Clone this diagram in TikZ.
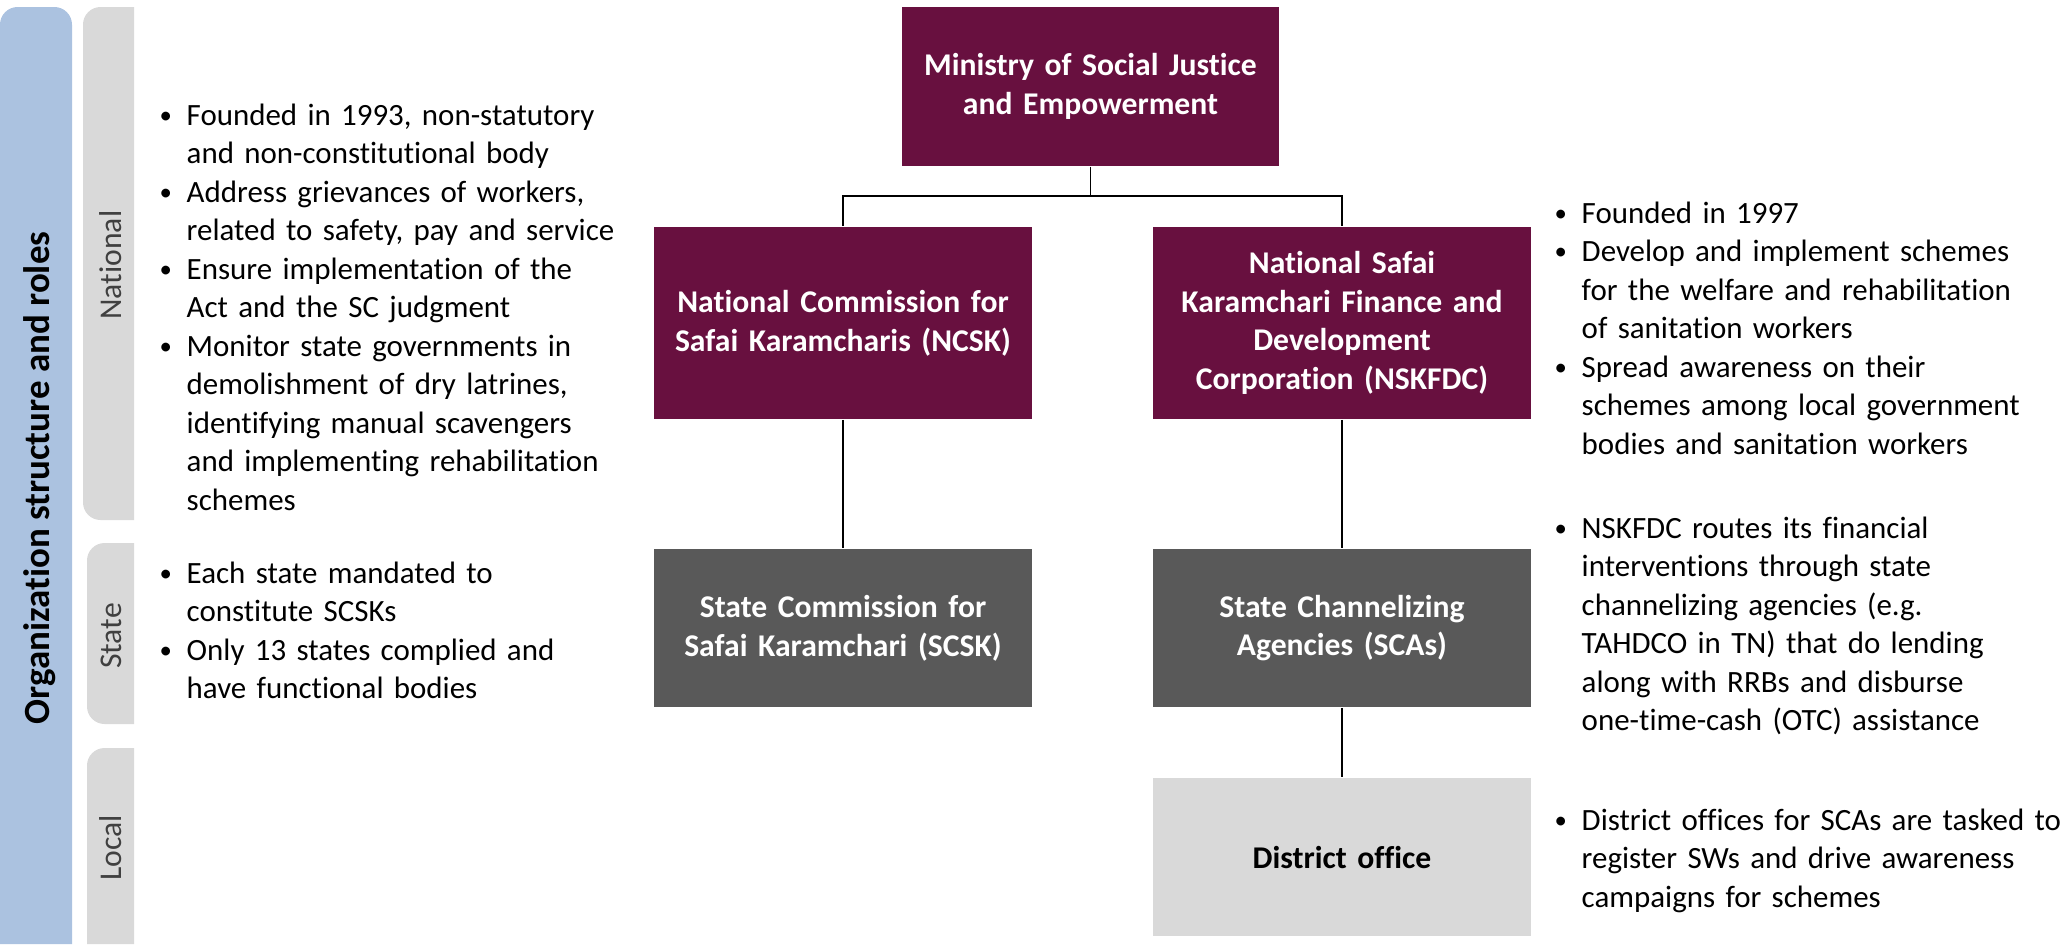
\documentclass[tikz,border=0pt]{standalone}
\usepackage{fontspec}
\setmainfont{Carlito}[Ligatures=NoCommon]
\usepackage{graphicx}
\usepackage{tikz}

\definecolor{maroon}{HTML}{68103F}
\definecolor{darkbox}{HTML}{595959}
\definecolor{lightbox}{HTML}{D9D9D9}
\definecolor{tabgray}{HTML}{D9D9D9}
\definecolor{barblue}{HTML}{ABC2E0}
\definecolor{labelgray}{HTML}{404040}

\newcommand{\bul}{\par\hangindent=0.31cm\hangafter=1\noindent\makebox[0.31cm][l]{\hspace{0.04cm}\raisebox{0.06em}{\scalebox{0.8}{\textbullet}}}}

\begin{document}
\begin{tikzpicture}[x=0.01cm,y=-0.01cm,
    natbox/.style={fill=maroon,text=white,font=\fontsize{9}{11}\selectfont\bfseries,minimum width=3.77cm,text width=3.5cm,align=center,inner sep=0pt},
    statebox/.style={natbox,fill=darkbox,minimum height=1.58cm},
    localbox/.style={natbox,fill=lightbox,text=black,minimum height=1.58cm},
    bullets/.style={anchor=north west,text width=5.3cm,align=left,inner sep=0pt,font=\fontsize{8.8}{10.95}\selectfont},
    tablabel/.style={rotate=90,text=labelgray,font=\fontsize{9}{11}\selectfont},
    link/.style={line width=0.5pt}]
    \useasboundingbox (0,0) rectangle (2065,944);
    % left bar and level tabs
    \fill[barblue] (0,944) [rounded corners=5pt] -- (0,7) -- (72,7) [sharp corners] -- (72,944) -- cycle;
    \fill[tabgray] (134,7) [rounded corners=5pt] -- (83,7) -- (83,520) [sharp corners] -- (134,520) -- cycle;
    \fill[tabgray] (134,543) [rounded corners=5pt] -- (87,543) -- (87,724) [sharp corners] -- (134,724) -- cycle;
    \fill[tabgray] (134,748) [rounded corners=5pt] -- (87,748) [sharp corners] -- (87,944) -- (134,944) -- cycle;
    \node[rotate=90,font=\fontsize{10.5}{12}\selectfont\bfseries] (title) at (40,478) {Organization structure and roles};
    \node[tablabel] (natlabel) at (111,265) {National};
    \node[tablabel] (statelabel) at (111,636) {State};
    \node[tablabel] (locallabel) at (111,848) {Local};

    % boxes
    \node[natbox,minimum height=1.59cm] (ministry) at (1090.5,86.5) {Ministry of Social Justice\\and Empowerment};
    \node[natbox,minimum height=1.92cm] (ncsk) at (843,323) {National Commission for\\Safai Karamcharis (NCSK)};
    \node[natbox,minimum height=1.92cm] (nskfdc) at (1342,323) {National Safai\\Karamchari Finance and\\Development\\Corporation (NSKFDC)};
    \node[statebox] (scsk) at (843,628) {State Commission for\\Safai Karamchari (SCSK)};
    \node[statebox] (sca) at (1342,628) {State Channelizing\\Agencies (SCAs)};
    \node[localbox] (district) at (1342,857) {District office};

    \draw[link] (ministry.south) -- ++(0,29) -| (ncsk.north);
    \draw[link] (ministry.south) -- ++(0,29) -| (nskfdc.north);
    \draw[link] (ncsk) -- (scsk);
    \draw[link] (nskfdc) -- (sca);
    \draw[link] (sca) -- (district);

    % roles
    \node[bullets] (nattext) at (155,86) {\bul Founded in 1993, non-statutory\newline and non-constitutional body
        \bul Address grievances of workers,\newline related to safety, pay and service
        \bul Ensure implementation of the\newline Act and the SC judgment
        \bul Monitor state governments in\newline demolishment of dry latrines,\newline identifying manual scavengers\newline and implementing rehabilitation\newline schemes\par};
    \node[bullets] (statetext) at (155,544) {\bul Each state mandated to\newline constitute SCSKs
        \bul Only 13 states complied and\newline have functional bodies\par};
    \node[bullets] (nskfdctext) at (1550,184) {\bul Founded in 1997
        \bul Develop and implement schemes\newline for the welfare and rehabilitation\newline of sanitation workers
        \bul Spread awareness on their\newline schemes among local government\newline bodies and sanitation workers\par};
    \node[bullets] (scatext) at (1550,499) {\bul NSKFDC routes its financial\newline interventions through state\newline channelizing agencies (e.g.\newline TAHDCO in TN) that do lending\newline along with RRBs and disburse\newline one-time-cash (OTC) assistance\par};
    \node[bullets] (districttext) at (1550,791) {\bul District offices for SCAs are tasked to\newline register SWs and drive awareness\newline campaigns for schemes\par};
\end{tikzpicture}
\end{document}
